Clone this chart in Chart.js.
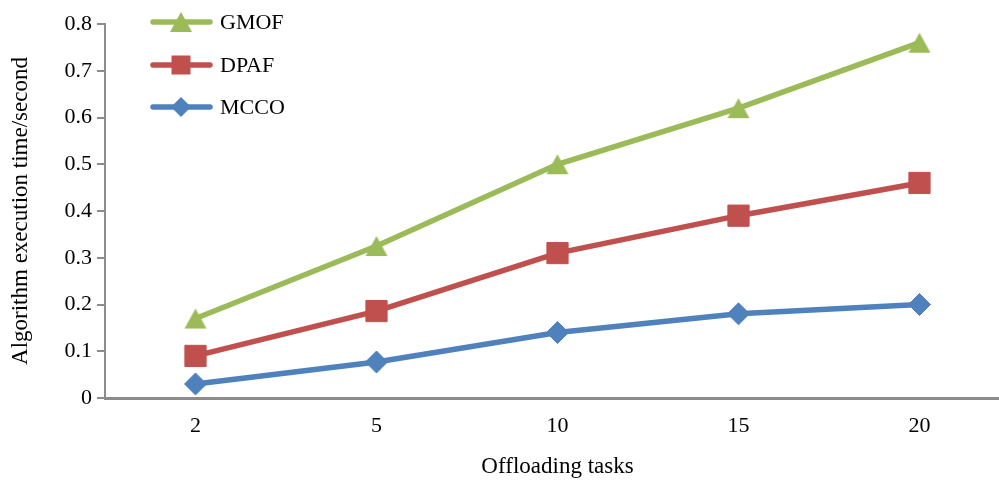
<!DOCTYPE html>
<html>
<head>
<meta charset="utf-8">
<script src="https://cdn.jsdelivr.net/npm/chart.js@4/dist/chart.umd.min.js"></script>
<style>
  html, body { margin: 0; padding: 0; background: #fff; overflow: hidden; width: 999px; height: 481px; }
  #clip { position: relative; width: 999px; height: 481px; overflow: hidden; }
  #wrap { position: absolute; left: 0; top: 0; width: 1010px; height: 481px; }
  #c { display: block; }
</style>
</head>
<body>
<div id="clip"><div id="wrap"><canvas id="c" width="1010" height="481"></canvas></div></div>
<script>
// Execution time of each offloading algorithm versus number of tasks
const taskCounts = ['2', '5', '10', '15', '20'];
const gmofTimes = [0.17, 0.325, 0.50, 0.62, 0.76];
const dpafTimes = [0.09, 0.186, 0.31, 0.39, 0.46];
const mccoTimes = [0.03, 0.077, 0.14, 0.18, 0.20];
const yTicks = [0, 0.1, 0.2, 0.3, 0.4, 0.5, 0.6, 0.7, 0.8];

const SERIF = '"Liberation Serif", "Times New Roman", serif';
const GREEN = '#9BBB59', RED = '#C0504D', BLUE = '#4F81BD';
const LINE_W = 5.5;

// Triangle marker centred on its bounding box
function triangleMarker(color) {
  const cv = document.createElement('canvas');
  cv.width = 24; cv.height = 22;
  const g = cv.getContext('2d');
  g.fillStyle = color;
  g.beginPath(); g.moveTo(12, 1); g.lineTo(23, 21); g.lineTo(1, 21); g.closePath(); g.fill();
  return cv;
}
const greenTriangle = triangleMarker(GREEN);

function series(label, data, color, style, radius) {
  return {
    label, data,
    borderColor: color, backgroundColor: color,
    pointBackgroundColor: color, pointBorderColor: color,
    borderWidth: LINE_W, pointStyle: style, pointRadius: radius, pointHoverRadius: radius,
    pointBorderWidth: 1, tension: 0, fill: false
  };
}

// Legend drawn inside the plot area, top-left, with line + marker samples
const insideLegend = {
  id: 'insideLegend',
  afterDraw(chart) {
    const ctx = chart.ctx;
    const rows = [
      { y: 22, ds: chart.data.datasets[0], kind: 'tri' },
      { y: 65, ds: chart.data.datasets[1], kind: 'sq' },
      { y: 107, ds: chart.data.datasets[2], kind: 'dia' }
    ];
    ctx.save();
    rows.forEach(r => {
      const c = r.ds.borderColor;
      ctx.strokeStyle = c; ctx.fillStyle = c;
      ctx.lineWidth = LINE_W; ctx.lineCap = 'round';
      ctx.beginPath(); ctx.moveTo(153, r.y); ctx.lineTo(210, r.y); ctx.stroke();
      const cx = 181, cy = r.y;
      if (r.kind === 'tri') {
        ctx.drawImage(greenTriangle, cx - 12, cy - 11);
      } else if (r.kind === 'sq') {
        ctx.fillRect(cx - 9.5, cy - 9.5, 19, 19);
      } else {
        ctx.beginPath();
        ctx.moveTo(cx, cy - 10); ctx.lineTo(cx + 10, cy); ctx.lineTo(cx, cy + 10); ctx.lineTo(cx - 10, cy);
        ctx.closePath(); ctx.fill();
      }
      ctx.fillStyle = '#000';
      ctx.font = '22px ' + SERIF;
      ctx.textBaseline = 'middle'; ctx.textAlign = 'left';
      ctx.fillText(r.ds.label, 220, r.y + 1);
    });
    ctx.restore();
  }
};

new Chart(document.getElementById('c'), {
  type: 'line',
  data: {
    labels: taskCounts,
    datasets: [
      series('GMOF', gmofTimes, GREEN, greenTriangle, 12),
      series('DPAF', dpafTimes, RED, 'rect', 15),
      series('MCCO', mccoTimes, BLUE, 'rectRot', 11)
    ]
  },
  options: {
    responsive: false,
    devicePixelRatio: 1,
    animation: false,
    layout: { autoPadding: false, padding: { top: 24, right: 0, left: 0, bottom: 0 } },
    plugins: { legend: { display: false }, tooltip: { enabled: false } },
    scales: {
      x: {
        offset: true,
        border: { display: true, color: '#8c8c8c', width: 3 },
        grid: { display: false, drawTicks: false },
        ticks: { color: '#000', font: { family: SERIF, size: 22 }, padding: 15 },
        title: { display: true, text: 'Offloading tasks', color: '#000',
                 font: { family: SERIF, size: 23 }, padding: { top: 4, bottom: 0 } },
        afterFit(s) { s.height = 83; }
      },
      y: {
        min: 0, max: 0.8,
        afterBuildTicks(s) { s.ticks = yTicks.map(v => ({ value: v })); },
        border: { display: true, color: '#8c8c8c', width: 2 },
        grid: { drawOnChartArea: false, drawTicks: true, tickLength: 8, color: '#8c8c8c', lineWidth: 2 },
        ticks: { color: '#000', font: { family: SERIF, size: 22 }, padding: 5,
                 callback: v => v === 0 ? '0' : v.toFixed(1) },
        title: { display: true, text: 'Algorithm execution time/second', color: '#000',
                 font: { family: SERIF, size: 23 }, padding: { top: 7, bottom: 0 } },
        afterFit(s) { s.width = 105; }
      }
    }
  },
  plugins: [insideLegend]
});
</script>
</body>
</html>
